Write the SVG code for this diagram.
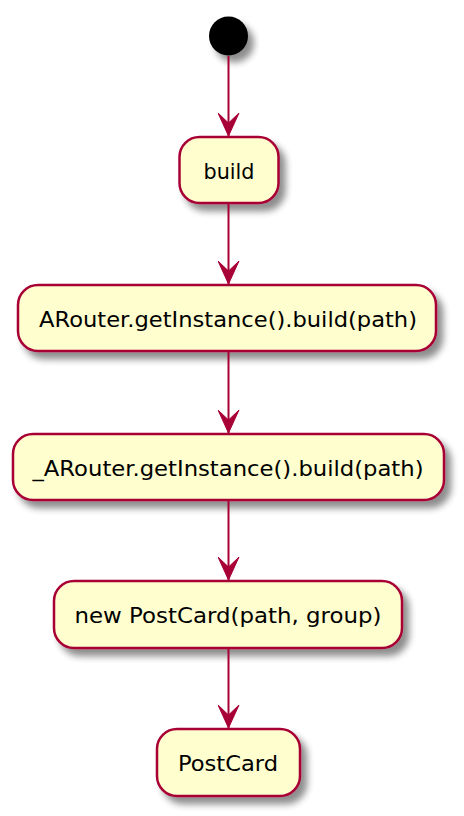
<svg xmlns="http://www.w3.org/2000/svg" width="464" height="816" viewBox="0 0 464 816">
<defs>
<filter id="sh" x="-20%" y="-20%" width="150%" height="180%">
<feGaussianBlur in="SourceAlpha" stdDeviation="3.5" result="b"/>
<feOffset in="b" dx="6" dy="7" result="o"/>
<feComponentTransfer in="o" result="c"><feFuncA type="linear" slope="0.45"/></feComponentTransfer>
<feMerge><feMergeNode in="c"/><feMergeNode in="SourceGraphic"/></feMerge>
</filter>
<marker id="ah" viewBox="0 0 24 22" refX="23" refY="11" markerWidth="24" markerHeight="22" markerUnits="userSpaceOnUse" orient="auto">
<path d="M23,11 L0,0.5 L10,11 L0,21.5 Z" fill="#A80036" stroke="#A80036" stroke-width="1"/>
</marker>
</defs>
<style>
.n rect{fill:#FEFECE;stroke:#A80036;stroke-width:2.5;filter:url(#sh)}
.n text{font-family:"DejaVu Sans","Liberation Sans",sans-serif;font-size:21px;fill:#000;text-anchor:middle}
.e line{stroke:#A80036;stroke-width:2;marker-end:url(#ah)}
</style>
<g id="start"><circle cx="228.5" cy="36" r="19.5" fill="#000" filter="url(#sh)"/></g>
<g id="build" class="n"><rect x="179.5" y="137" width="99" height="66" rx="20" ry="20"/><text x="229" y="178.5" textLength="51" lengthAdjust="spacingAndGlyphs">build</text></g>
<g id="arouter" class="n"><rect x="18" y="285" width="418" height="66" rx="20" ry="20"/><text x="228" y="326.5" textLength="378" lengthAdjust="spacingAndGlyphs">ARouter.getInstance().build(path)</text></g>
<g id="_arouter" class="n"><rect x="13" y="434" width="431" height="66" rx="20" ry="20"/><text x="228" y="475.5" textLength="391" lengthAdjust="spacingAndGlyphs">_ARouter.getInstance().build(path)</text></g>
<g id="newpostcard" class="n"><rect x="54" y="581" width="348" height="67" rx="20" ry="20"/><text x="228" y="623" textLength="307" lengthAdjust="spacingAndGlyphs">new PostCard(path, group)</text></g>
<g id="postcard" class="n"><rect x="157" y="729" width="143" height="67" rx="20" ry="20"/><text x="228" y="771" textLength="100" lengthAdjust="spacingAndGlyphs">PostCard</text></g>
<g id="edges" class="e">
<line x1="228.5" y1="56" x2="228.5" y2="136"/>
<line x1="228.5" y1="204" x2="228.5" y2="284"/>
<line x1="228.5" y1="352" x2="228.5" y2="433"/>
<line x1="228.5" y1="501" x2="228.5" y2="580"/>
<line x1="228.5" y1="649" x2="228.5" y2="728"/>
</g>
</svg>
